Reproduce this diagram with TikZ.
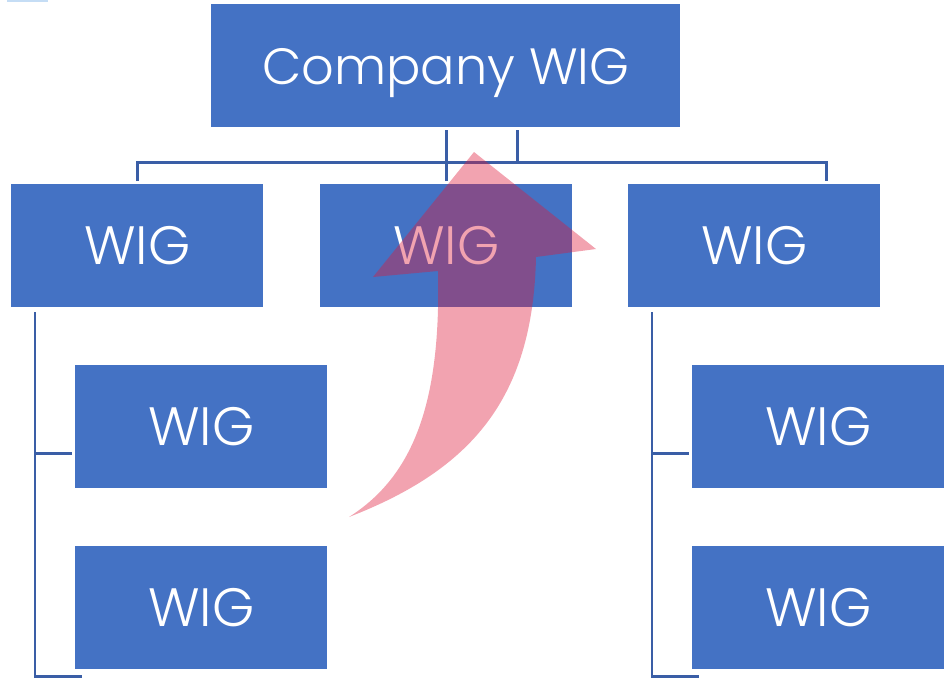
\documentclass[tikz,border=0pt]{standalone}
\usepackage{fontspec}
\setmainfont{Poppins}[UprightFont={* Light}]
\usetikzlibrary{calc}
\definecolor{boxblue}{HTML}{4472C4}
\definecolor{linkblue}{HTML}{3A5EA6}
\definecolor{arrowred}{RGB}{222,26,58}
\definecolor{markblue}{HTML}{C5DDF5}
\begin{document}
\begin{tikzpicture}[x=1pt,y=-1pt,
  wig/.style={fill=boxblue, draw=none, text=white, anchor=north west,
    minimum width=252, minimum height=123, inner sep=0,
    text height=38, text depth=0,
    font=\fontsize{54}{54}\selectfont},
  link/.style={draw=linkblue, line width=2.8}]
\useasboundingbox (0,0) rectangle (951,681);
\fill[markblue] (7,0) rectangle (48,1.5);

% boxes
\node[wig, minimum width=469, font=\fontsize{51}{51}\selectfont] (top) at (211,4) {Company WIG};
\node[wig] (l) at (11,184) {WIG};
\node[wig] (m) at (320,184) {WIG};
\node[wig] (r) at (628,184) {WIG};
\node[wig] (l1) at (75,365) {WIG};
\node[wig] (l2) at (75,546) {WIG};
\node[wig] (r1) at (692,365) {WIG};
\node[wig] (r2) at (692,546) {WIG};

% top level connectors
\coordinate (hub) at ($(top.south)+(71.5,3)$);
\coordinate (bus) at ($(top.south)+(71.5,35)$);
\draw[link] ($(m.north)+(0,-3)$) -- ($(m.north |- top.south)+(0,3)$);
\draw[link] (hub) -- (bus);
\draw[link] ($(l.north)+(0,-3)$) |- (bus) -| ($(r.north)+(72,-3)$);

% left branch
\draw[link] ($(l.south west)+(24,5)$) |- ($(l2.south west)+(7,7)$);
\draw[link] ($(l1.west)+(-40,27)$) -- ++(37,0);

% right branch
\draw[link] ($(r.south west)+(24,5)$) |- ($(r2.south west)+(7,7)$);
\draw[link] ($(r1.west)+(-40,27)$) -- ++(37,0);

% curved arrow
\fill[arrowred, fill opacity=0.4] (474,152) -- (596,249) -- (536,257)
  .. controls (533,400) and (470,470) .. (349,517)
  .. controls (415,475) and (441,400) .. (438,271)
  -- (373,277) -- cycle;
\end{tikzpicture}
\end{document}
